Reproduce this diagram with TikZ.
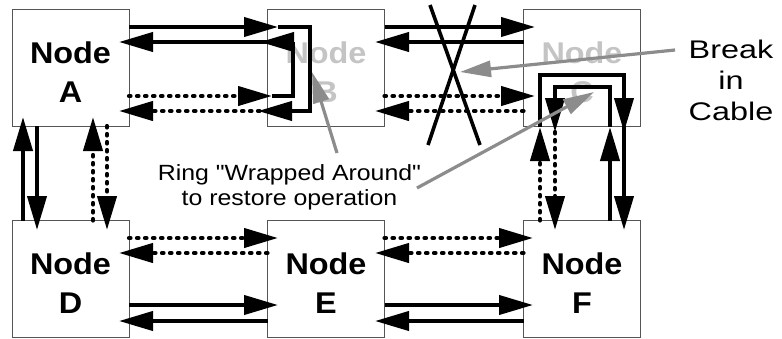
\documentclass[tikz,border=0pt]{standalone}
\usepackage{fontspec}
\setmainfont{Liberation Sans}
\newfontfamily\nodefont[FakeStretch=1.08]{Liberation Sans}
\newfontfamily\brkfont[FakeStretch=1.27]{Liberation Sans}
\newfontfamily\ringfont[FakeStretch=1.13]{Liberation Sans}
\usetikzlibrary{arrows.meta,calc}
\definecolor{boxgray}{HTML}{555555}
\definecolor{fadetext}{HTML}{C4C4C4}
\definecolor{pointgray}{HTML}{8C8C8C}
\tikzset{
  box/.style={draw=boxgray, line width=1pt, minimum width=117pt, minimum height=117pt,
    inner sep=0pt, outer sep=0pt, align=center,
    font=\nodefont\bfseries\fontsize{30}{39}\selectfont},
  fadebox/.style={box, text=fadetext},
  solidln/.style={line width=4pt, line join=miter, -{Triangle[length=34pt,width=19pt]}},
  dotln/.style={line width=4.2pt, dash pattern=on 1.5pt off 6.5pt, line cap=round,
    -{Triangle[length=34pt,width=19pt]}},
  breakln/.style={line width=3.6pt},
  pointer/.style={draw=pointgray, line width=3.2pt,
    -{Triangle[length=31pt,width=16pt]}, color=pointgray},
}
\begin{document}
\begin{tikzpicture}[x=1pt,y=-1pt]
\useasboundingbox (0,0) rectangle (782,338);
% boxes
\node[box] (A) at (70.5,67.5) {\rule{0pt}{30.5pt}Node\\A};
\node[fadebox] (B) at (326,67.5) {\rule{0pt}{30.5pt}Node\\B};
\node[fadebox] (C) at (582,67.5) {\rule{0pt}{30.5pt}Node\\C};
\node[box] (D) at (70.5,279) {\rule{0pt}{30.5pt}Node\\D};
\node[box] (E) at (326,279) {\rule{0pt}{30.5pt}Node\\E};
\node[box] (F) at (582,279) {\rule{0pt}{30.5pt}Node\\F};
% A - B
\draw[solidln] ($(A.north east)+(0,18)$) -- ($(B.north west)+(10.5,18)$);
\draw[solidln] ($(B.north west)+(0,33)$) -- ($(A.north east)+(-10,33)$);
\draw[dotln] ($(A.north east)+(0,87)$) -- ($(B.north west)+(4.5,87)$);
\draw[dotln] ($(B.north west)+(0,102)$) -- ($(A.north east)+(-10,102)$);
% wrap at B
\draw[solidln] ($(B.north west)+(10.5,18)$) -- ($(B.north west)+(42.5,18)$)
  -- ($(B.north west)+(42.5,102)$) -- ($(B.north west)+(-9.5,102)$);
\draw[solidln] ($(B.north west)+(4.5,87)$) -- ($(B.north west)+(25.5,87)$)
  -- ($(B.north west)+(25.5,33)$) -- ($(B.north west)+(-7.5,33)$);
% B - C
\draw[solidln] ($(B.north east)+(0,18)$) -- ($(C.north west)+(11.5,18)$);
\draw[solidln] ($(C.north west)+(0,33)$) -- ($(B.north east)+(-9.5,33)$);
\draw[dotln] ($(B.north east)+(0,87)$) -- ($(C.north west)+(11.5,87)$);
\draw[dotln] ($(C.north west)+(0,102)$) -- ($(B.north east)+(-9.5,102)$);
% A - D
\draw[solidln] ($(D.north west)+(11,0)$) -- ($(A.south west)+(11,-9)$);
\draw[solidln] ($(A.south west)+(25,0)$) -- ($(D.north west)+(25,9.5)$);
\draw[dotln] ($(D.north west)+(81,0)$) -- ($(A.south west)+(81,-9)$);
\draw[dotln] ($(A.south west)+(95,0)$) -- ($(D.north west)+(95,9.5)$);
% C - F
\draw[dotln] ($(F.north west)+(16.5,0)$) -- ($(C.south west)+(16.5,1)$);
\draw[dotln] ($(C.south west)+(31.5,6)$) -- ($(F.north west)+(31.5,9.5)$);
\draw[solidln] ($(F.north west)+(86.5,0)$) -- ($(C.south west)+(86.5,1)$);
\draw[solidln] ($(C.south west)+(100.5,0)$) -- ($(F.north west)+(100.5,9.5)$);
% wrap at C
\draw[solidln] ($(C.south west)+(16.5,1)$) -- ($(C.south west)+(16.5,-51)$)
  -- ($(C.south west)+(100.5,-51)$) -- ($(C.south west)+(100.5,6)$);
\draw[solidln] ($(C.south west)+(86.5,1)$) -- ($(C.south west)+(86.5,-39)$)
  -- ($(C.south west)+(31.5,-39)$) -- ($(C.south west)+(31.5,6)$);
% D - E
\draw[dotln] ($(D.north east)+(0,17.5)$) -- ($(E.north west)+(10.5,17.5)$);
\draw[dotln] ($(E.north west)+(0,32.5)$) -- ($(D.north east)+(-10,32.5)$);
\draw[solidln] ($(D.north east)+(0,84.5)$) -- ($(E.north west)+(10.5,84.5)$);
\draw[solidln] ($(E.north west)+(0,100.5)$) -- ($(D.north east)+(-10,100.5)$);
% E - F
\draw[dotln] ($(E.north east)+(0,17.5)$) -- ($(F.north west)+(9.5,17.5)$);
\draw[dotln] ($(F.north west)+(0,32.5)$) -- ($(E.north east)+(-9.5,32.5)$);
\draw[solidln] ($(E.north east)+(0,84.5)$) -- ($(F.north west)+(9.5,84.5)$);
\draw[solidln] ($(F.north west)+(0,100.5)$) -- ($(E.north east)+(-9.5,100.5)$);
% break
\coordinate (xa1) at (430,5);
\coordinate (xa2) at (480,145);
\coordinate (xb1) at (475,5);
\coordinate (xb2) at (428,145);
\draw[breakln] (xa1) -- (xa2);
\draw[breakln] (xb1) -- (xb2);
% labels
\node[inner sep=0pt, align=center, font=\brkfont\fontsize{25.5}{31}\selectfont] (brk) at (731,80) {Break\\in\\Cable};
\node[inner sep=0pt, align=center, font=\ringfont\fontsize{22}{24.5}\selectfont] (ring) at (289.5,187.2) {Ring "Wrapped Around"\\to restore operation};
\coordinate (brkfrom) at (675,50);
\coordinate (brkto) at (460,72);
\coordinate (ringB) at (337,153);
\coordinate (ringBto) at (312,72);
\coordinate (ringC) at (417,188);
\coordinate (ringCto) at (594,92);
\draw[pointer] (brkfrom) -- (brkto);
\draw[pointer] (ringB) -- (ringBto);
\draw[pointer] (ringC) -- (ringCto);
\end{tikzpicture}
\end{document}
